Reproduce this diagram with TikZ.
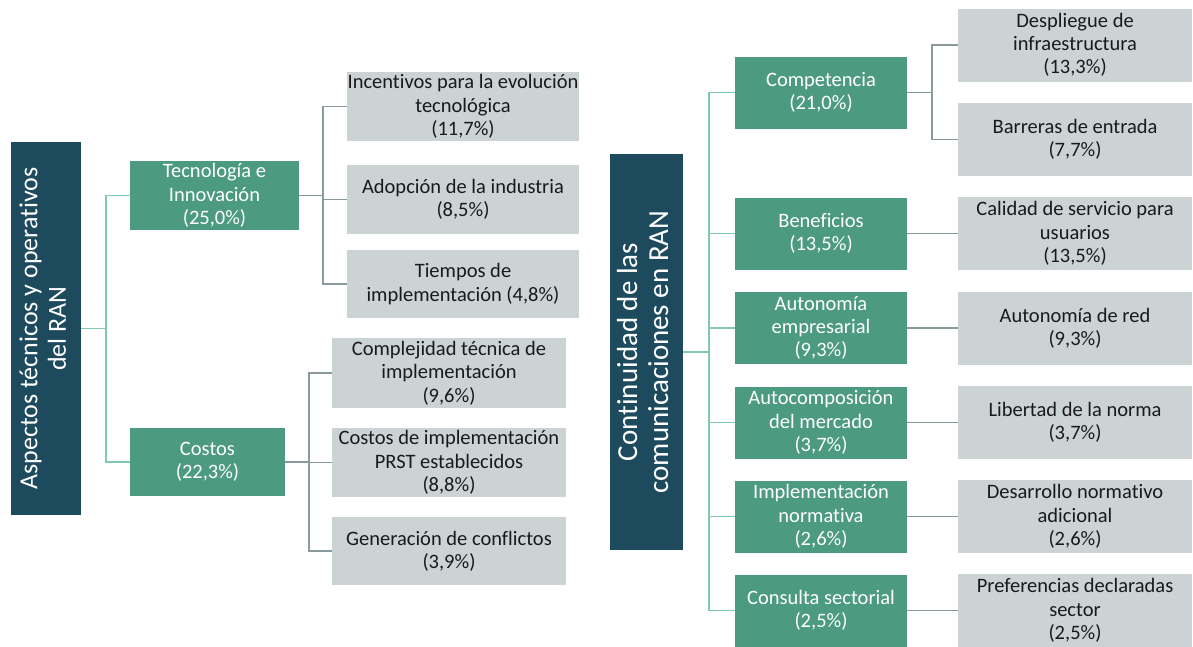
\documentclass[tikz,border=0pt]{standalone}
\usepackage{fontspec}
\setmainfont{Carlito}[Ligatures=NoCommon]
\definecolor{rootblue}{HTML}{1D4A5C}
\definecolor{branchgreen}{HTML}{4C9A80}
\definecolor{leafgray}{HTML}{CBD3D5}
\definecolor{linkgreen}{HTML}{80C8AE}
\definecolor{linkgray}{HTML}{8A999B}
\definecolor{leaftext}{HTML}{1A1A1A}
\tikzset{
  rootbox/.style={fill=rootblue, text=white, inner sep=0pt, align=center},
  branchbox/.style={fill=branchgreen, text=white, inner sep=0pt, align=center,
    font=\fontsize{20.5}{23.3}\selectfont},
  leafbox/.style={fill=leafgray, text=leaftext, inner sep=0pt, align=center,
    font=\fontsize{20.5}{23.3}\selectfont},
  glink/.style={draw=linkgreen, line width=1.6pt},
  ylink/.style={draw=linkgray, line width=1.6pt},
}
\begin{document}
\begin{tikzpicture}[x=1pt,y=-1pt]
\useasboundingbox (0,0) rectangle (1193,646);

% ---------- left tree ----------
\node[rootbox, minimum width=70, minimum height=373] (rootL) at (46,328.5)
  {\rotatebox{90}{\fontsize{26}{28.5}\selectfont\begin{tabular}{@{}c@{}}Aspectos técnicos y operativos\\del RAN\end{tabular}}};

\node[branchbox, minimum width=169, minimum height=69] (tec) at (214.5,195.5)
  {Tecnología e\\Innovación\\(25,0\%)};
\node[branchbox, minimum width=155, minimum height=68] (cos) at (207.5,462)
  {Costos\\(22,3\%)};

\node[leafbox, minimum width=232, minimum height=69] (inc) at (463,106.5)
  {Incentivos para la evolución\\tecnológica\\(11,7\%)};
\node[leafbox, minimum width=232, minimum height=69] (ado) at (463,199.5)
  {Adopción de la industria\\(8,5\%)};
\node[leafbox, minimum width=232, minimum height=68] (tie) at (463,284)
  {Tiempos de\\implementación (4,8\%)};

\node[leafbox, minimum width=234, minimum height=70] (cpl) at (449,373)
  {Complejidad técnica de\\implementación\\(9,6\%)};
\node[leafbox, minimum width=234, minimum height=69] (cim) at (449,462.5)
  {Costos de implementación\\PRST establecidos\\(8,8\%)};
\node[leafbox, minimum width=234, minimum height=68] (gen) at (449,551)
  {Generación de conflictos\\(3,9\%)};

\foreach \b in {tec,cos}
  \draw[glink] (rootL.east) -- ++(25,0) |- (\b.west);
\foreach \c in {inc,ado,tie}
  \draw[ylink] (tec.east) -- ++(24,0) |- (\c.west);
\foreach \c in {cpl,cim,gen}
  \draw[ylink] (cos.east) -- ++(24,0) |- (\c.west);

% ---------- right tree ----------
\node[rootbox, minimum width=73, minimum height=396] (rootR) at (646.5,352)
  {\rotatebox{90}{\fontsize{29}{31}\selectfont\begin{tabular}{@{}c@{}}Continuidad de las\\comunicaciones en RAN\end{tabular}}};

\node[branchbox, minimum width=172, minimum height=72] (cpt) at (821,92.5)
  {Competencia\\(21,0\%)};
\node[branchbox, minimum width=172, minimum height=72] (ben) at (821,233.5)
  {Beneficios\\(13,5\%)};
\node[branchbox, minimum width=172, minimum height=72] (aut) at (821,328)
  {Autonomía\\empresarial\\(9,3\%)};
\node[branchbox, minimum width=172, minimum height=72] (acm) at (821,422.5)
  {Autocomposición\\del mercado\\(3,7\%)};
\node[branchbox, minimum width=172, minimum height=72] (imp) at (821,516.5)
  {Implementación\\normativa\\(2,6\%)};
\node[branchbox, minimum width=172, minimum height=72] (con) at (821,610.5)
  {Consulta sectorial\\(2,5\%)};

\node[leafbox, minimum width=234, minimum height=73] (des) at (1075,45)
  {Despliegue de\\infraestructura\\(13,3\%)};
\node[leafbox, minimum width=234, minimum height=73] (bar) at (1075,139.5)
  {Barreras de entrada\\(7,7\%)};
\node[leafbox, minimum width=234, minimum height=73] (cal) at (1075,233.5)
  {Calidad de servicio para\\usuarios\\(13,5\%)};
\node[leafbox, minimum width=234, minimum height=73] (red) at (1075,328)
  {Autonomía de red\\(9,3\%)};
\node[leafbox, minimum width=234, minimum height=73] (lib) at (1075,422.5)
  {Libertad de la norma\\(3,7\%)};
\node[leafbox, minimum width=234, minimum height=73] (dsn) at (1075,516.5)
  {Desarrollo normativo\\adicional\\(2,6\%)};
\node[leafbox, minimum width=234, minimum height=73] (pre) at (1075,610.5)
  {Preferencias declaradas\\sector\\(2,5\%)};

\foreach \b in {cpt,ben,aut,acm,imp,con}
  \draw[glink] (rootR.east) -- ++(26,0) |- (\b.west);
\foreach \c in {des,bar}
  \draw[ylink] (cpt.east) -- ++(25,0) |- (\c.west);
\draw[ylink] (ben.east) -- (cal.west);
\draw[ylink] (aut.east) -- (red.west);
\draw[ylink] (acm.east) -- (lib.west);
\draw[ylink] (imp.east) -- (dsn.west);
\draw[ylink] (con.east) -- (pre.west);
\end{tikzpicture}
\end{document}
